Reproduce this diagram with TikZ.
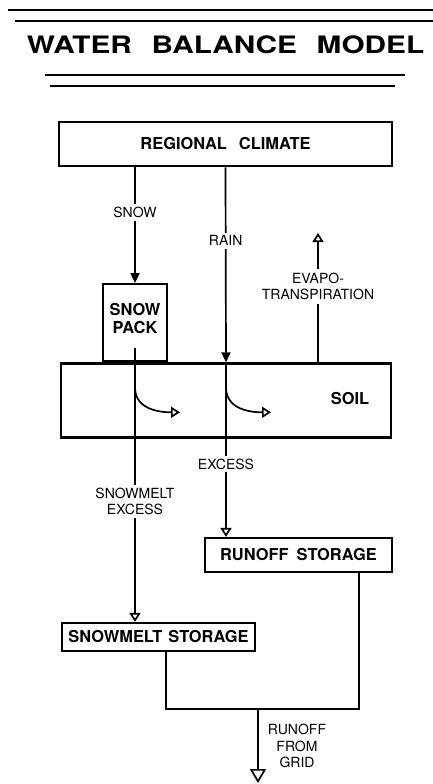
\documentclass[tikz,border=0pt]{standalone}
\usepackage{fontspec}
\setmainfont{TeX Gyre Heros}
\usetikzlibrary{arrows.meta,calc,positioning}

\tikzset{
  box/.style={draw,line width=1.1pt,inner sep=0pt,align=center,
    font=\bfseries\fontsize{8.2}{9}\selectfont},
  lbl/.style={inner sep=1.5pt,align=center,font=\fontsize{7}{8.3}\selectfont},
  gaplbl/.style={lbl,fill=white},
  flow/.style={line width=0.85pt},
  fillarrow/.style={flow,-{Triangle[width=4.5pt,length=5pt]}},
  openarrow/.style={flow,-{Triangle[open,width=5.5pt,length=4.5pt]}},
  bigarrow/.style={flow,-{Triangle[open,width=8pt,length=7pt]}},
}

\begin{document}
\begin{tikzpicture}[x=0.5pt,y=-0.5pt]
\useasboundingbox (0,0) rectangle (433,784);
% heading and its rules
\draw[line width=1pt] (8,10) -- (433,10);
\draw[line width=1pt] (15,21) -- (433,21);
\node[inner sep=0pt,font=\bfseries\fontsize{12}{12}\selectfont] (title) at (225.5,45)
  {\scalebox{1.24}[1]{WATER\hspace{8pt}BALANCE\hspace{8pt}MODEL}};
\draw[line width=1.3pt] (45,75) -- (405,75);
\draw[line width=1pt] (50,86) -- (395,86);

% boxes
\node[box,line width=1.4pt,minimum width=166.5pt,minimum height=22pt] (climate) at (225.5,144) {REGIONAL\hspace{6pt}CLIMATE};
\node[box,line width=1.2pt,minimum width=165pt,minimum height=37pt] (soil) at (226,400.5) {};
\node[box,draw=none,anchor=east] (soiltext) at ([xshift=-11pt,yshift=1pt]soil.east) {SOIL};
\node[box,minimum width=32pt,minimum height=38.5pt,anchor=south] (pack) at (soil.north -| 135,0) {};
\node[box,draw=none] (packtext) at (135,319) {SNOW\\PACK};
\node[box,minimum width=93.5pt,minimum height=17pt] (runoff) at (298.5,555) {RUNOFF\hspace{4pt}STORAGE};
\node[box,minimum width=96.5pt,minimum height=14pt] (meltstore) at (158.5,637) {SNOWMELT\hspace{3pt}STORAGE};

% flows
\draw[fillarrow] (climate.south -| pack.north) -- node[gaplbl,pos=0.39] {SNOW} (pack.north);
\draw[fillarrow] (climate.south) -- node[gaplbl,pos=0.376] {RAIN} (soil.north);
\draw[openarrow] (soil.north) -- node[gaplbl,pos=0.583] {EXCESS} (soil.north |- runoff.north);
\coordinate (meltsrc) at ([yshift=7pt]pack.south);
\draw[openarrow] (meltsrc) -- node[gaplbl,pos=0.56] {SNOWMELT\\EXCESS} (meltsrc |- meltstore.north);
\foreach \c in {meltsrc,soil.north} {
  \draw[openarrow] ($(\c |- soil.north)+(0,25)$) .. controls +(0,20) and +(-25,0) .. ($(\c |- soil.north)+(45,50)$);
}

% evapotranspiration
\node[lbl] (evapo) at (318,286.5) {EVAPO-\\TRANSPIRATION};
\coordinate (evtop) at (319,233);
\draw[flow] (evapo.south |- soil.north) -- (evapo.south);
\draw[openarrow] (evapo.north) -- (evapo.north |- evtop);

% runoff from grid
\coordinate (join) at (258,709);
\coordinate (gridend) at (258,783);
\draw[flow] ([xshift=30.25pt]runoff.south) |- (join) -| ([xshift=3.75pt]meltstore.south);
\draw[bigarrow] (join) -- (gridend);
\node[lbl] (gridlbl) at (297,746) {RUNOFF\\FROM\\GRID};
\end{tikzpicture}
\end{document}
